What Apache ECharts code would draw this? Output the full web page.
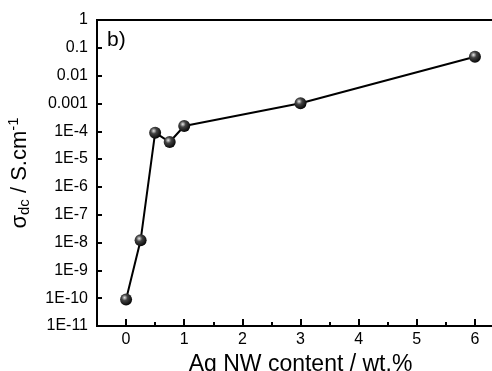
<!DOCTYPE html>
<html>
<head>
<meta charset="utf-8">
<script src="https://cdn.jsdelivr.net/npm/echarts@6/dist/echarts.min.js"></script>
<style>
  html, body { margin: 0; padding: 0; background: #fff; }
  #chart { width: 492px; height: 371px; }
</style>
</head>
<body>
<div id="chart"></div>
<script>
// Ag NW content (wt.%) vs dc conductivity (S/cm)
let agContent = [0, 0.25, 0.5, 0.75, 1, 3, 6];
let sigmaDc = [9e-11, 1.2e-8, 8.9e-5, 4.1e-5, 1.55e-4, 1.02e-3, 0.048];

let xMajorTicks = [0, 1, 2, 3, 4, 5, 6];
let xMinorTicks = [0.5, 1.5, 2.5, 3.5, 4.5, 5.5];
let yTickLabels = ['1', '0.1', '0.01', '0.001', '1E-4', '1E-5', '1E-6',
                   '1E-7', '1E-8', '1E-9', '1E-10', '1E-11'];

let font = 'Liberation Sans, Arial, sans-serif';

let chart = echarts.init(document.getElementById('chart'));

let sphere = {
    type: 'radial', x: 0.38, y: 0.35, r: 0.7,
    colorStops: [
        {offset: 0, color: '#e8e8e8'},
        {offset: 0.35, color: '#444'},
        {offset: 1, color: '#000'}
    ]
};

let option = {
    animation: false,
    backgroundColor: '#fff',
    grid: {
        left: 97, top: 20, width: 407, height: 306,
        outerBoundsMode: 'none', containLabel: false,
        show: true, borderColor: '#000', borderWidth: 2
    },
    xAxis: [{
        type: 'value', min: -0.5, max: 6.5,
        axisLine: {onZero: false, lineStyle: {color: '#000', width: 2}},
        axisTick: {inside: true, length: 7, lineStyle: {color: '#000', width: 2}, customValues: xMajorTicks},
        axisLabel: {
            customValues: xMajorTicks, margin: 6,
            color: '#000', fontSize: 16, fontFamily: font,
            formatter: function(v){ return String(v); }
        },
        splitLine: {show: false},
        name: 'Ag NW content / wt.%',
        nameLocation: 'middle', nameGap: 25,
        nameTextStyle: {color: '#000', fontSize: 23, fontFamily: font}
    }, {
        type: 'value', min: -0.5, max: 6.5, position: 'bottom',
        axisLine: {show: false},
        axisTick: {inside: true, length: 4, lineStyle: {color: '#000', width: 2}, customValues: xMinorTicks},
        axisLabel: {show: false},
        splitLine: {show: false}
    }],
    yAxis: {
        type: 'log', logBase: 10, min: 1e-11, max: 1, interval: 1,
        axisLine: {show: true, onZero: false, lineStyle: {color: '#000', width: 2}},
        axisTick: {show: true, inside: true, length: 5, lineStyle: {color: '#000', width: 2}},
        minorTick: {show: false},
        axisLabel: {
            color: '#000', fontSize: 16, fontFamily: font, margin: 9,
            formatter: function(v){
                let i = Math.round(-Math.log10(v));
                return yTickLabels[i] || '';
            }
        },
        splitLine: {show: false},
        name: '{s|σ}{sub|dc}{s| / S.cm}{sup|-1}',
        nameLocation: 'middle', nameGap: 64,
        nameTextStyle: {
            color: '#000', fontFamily: font,
            rich: {
                s: {fontSize: 22, fontFamily: font, color: '#000'},
                sub: {fontSize: 15, fontFamily: font, color: '#000', padding: [10, 0, 0, 0]},
                sup: {fontSize: 15, fontFamily: font, color: '#000', padding: [0, 0, 12, 0]}
            }
        }
    },
    graphic: [{
        type: 'text', left: 107, top: 30,
        style: {text: 'b)', fontSize: 21, fontFamily: font, fill: '#000'}
    }],
    series: [{
        type: 'line',
        xAxisIndex: 0,
        data: agContent.map(function(x, i){ return [x, sigmaDc[i]]; }),
        lineStyle: {color: '#000', width: 2},
        symbol: 'circle', symbolSize: 12,
        itemStyle: {color: sphere, borderWidth: 0},
        z: 5
    }]
};

chart.setOption(option);
</script>
</body>
</html>
